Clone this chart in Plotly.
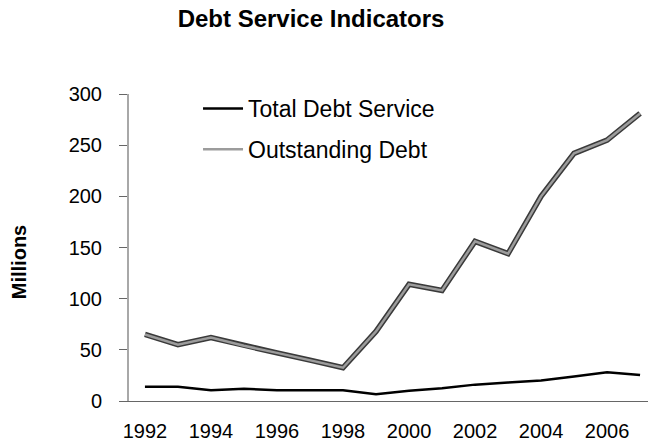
import plotly.graph_objects as go

years = list(range(1992, 2008))
total_debt_service = [14, 14, 10.5, 12, 10.5, 10.5, 10.5, 6.5, 10, 12.5, 16, 18, 20, 24, 28, 25.5]
outstanding_debt = [65, 55, 62, 54, 47, 40, 32.5, 68, 114, 108, 156, 144, 200, 242, 255, 281]
tick_years = [1992, 1994, 1996, 1998, 2000, 2002, 2004, 2006]
tick_labels = [str(y) for y in tick_years]
y_ticks = [0, 50, 100, 150, 200, 250, 300]

FONT = "Liberation Sans, Arial, Helvetica, sans-serif"

fig = go.Figure()
fig.add_trace(go.Scatter(
    x=years, y=total_debt_service, mode="lines", name="Total Debt Service",
    line=dict(color="#000000", width=2.5), legendgroup="a"))
fig.add_trace(go.Scatter(
    x=years, y=outstanding_debt, mode="lines", name="Outstanding Debt",
    line=dict(color="#3a3a3a", width=5.5), legendgroup="b", showlegend=False))
fig.add_trace(go.Scatter(
    x=years, y=outstanding_debt, mode="lines", name="Outstanding Debt",
    line=dict(color="#9c9c9c", width=2.5), legendgroup="b"))

fig.update_layout(
    width=648, height=444,
    margin=dict(l=129, r=0, t=94, b=43),
    paper_bgcolor="white", plot_bgcolor="white",
    font=dict(family=FONT, color="#000000", size=20),
    title=dict(text="<b>Debt Service Indicators</b>", x=0.48, xanchor="center",
               y=0.957, yanchor="middle", xref="container", yref="container",
               font=dict(family=FONT, size=24, color="#000000")),
    showlegend=True,
    legend=dict(x=0.133, xanchor="left", y=1.023, yanchor="top",
                font=dict(family=FONT, size=23, color="#000000"),
                bgcolor="rgba(0,0,0,0)", traceorder="grouped", tracegroupgap=8,
                itemwidth=40),
    xaxis=dict(range=[1991.517, 2007.24], tickvals=tick_years, ticktext=tick_labels,
               ticks="", showgrid=False, zeroline=False, showline=True,
               linecolor="#666666", linewidth=1.2, ticklabelstandoff=12,
               tickfont=dict(family=FONT, size=20, color="#000000")),
    yaxis=dict(range=[0, 300], tickvals=y_ticks, ticks="outside", ticklen=8,
               tickcolor="#666666", tickwidth=1, showgrid=False, zeroline=False,
               showline=True, linecolor="#a8a8a8", linewidth=2,
               ticklabelstandoff=13,
               tickfont=dict(family=FONT, size=20, color="#000000")),
    annotations=[dict(text="<b>Millions</b>", textangle=-90, x=-0.212, y=0.452,
                      xref="paper", yref="paper", showarrow=False,
                      xanchor="center", yanchor="middle",
                      font=dict(family=FONT, size=20, color="#000000"))],
)

fig.write_html("out.html")
